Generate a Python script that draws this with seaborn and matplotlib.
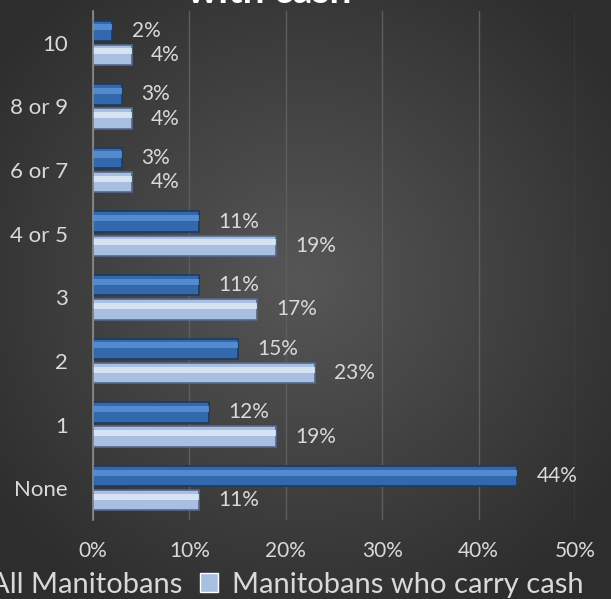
import numpy as np
import pandas as pd
import matplotlib
matplotlib.use("Agg")
import matplotlib.pyplot as plt
from matplotlib.patches import Rectangle
import seaborn as sns

# data (percent)
categories = ["10", "8 or 9", "6 or 7", "4 or 5", "3", "2", "1", "None"]
all_manitobans = [2, 3, 3, 11, 11, 15, 12, 44]
carry_cash = [4, 4, 4, 19, 17, 23, 19, 11]
series = ["All Manitobans", "Manitobans who carry cash"]
xticks = [0, 10, 20, 30, 40, 50]

df = pd.DataFrame({
    "cat": categories * 2,
    "val": all_manitobans + carry_cash,
    "series": [series[0]] * len(categories) + [series[1]] * len(categories),
})

sns.set_style("dark")
plt.rcParams["font.family"] = ["Lato", "DejaVu Sans"]
txt = "#d9d9d9"

fig = plt.figure(figsize=(6.11, 5.99), dpi=100)

# radial grey background
bg = fig.add_axes([0, 0, 1, 1], zorder=-10)
yy, xx = np.mgrid[0:599, 0:611]
r = np.sqrt(((xx - 300) / 611.0) ** 2 + ((yy - 280) / 599.0) ** 2)
shade = np.clip(0.34 - 0.26 * r, 0.18, 0.34)
bg.imshow(np.dstack([shade] * 3), aspect="auto", extent=[0, 1, 0, 1])
bg.axis("off")

ax = fig.add_axes([93 / 611, 1 - 520 / 599, (575 - 93) / 611, (520 - 11) / 599])
ax.patch.set_alpha(0)
sns.barplot(data=df, x="val", y="cat", hue="series", order=categories,
            hue_order=series, palette=["#3468ad", "#a9bfe2"], width=0.76,
            orient="h", ax=ax, legend=True, saturation=1)

edges = ["#1d3a63", "#53698c"]
shine = ["#5c94d8", "#e2edfb"]
for i, cont in enumerate(ax.containers):
    for p in cont.patches:
        h = p.get_height()
        p.set_y(p.get_y() + 0.03)
        p.set_height(h - 0.06)
        p.set_edgecolor(edges[i])
        p.set_linewidth(1.2)
        # light band across the bar for the bevel look
        y0, hh = p.get_y(), p.get_height()
        ax.add_patch(Rectangle((0, y0 + hh * 0.18), p.get_width(), hh * 0.3,
                               facecolor=shine[i], edgecolor="none",
                               alpha=0.8, zorder=p.get_zorder() + 0.1))
    ax.bar_label(cont, labels=[f"{v:.0f}%" for v in cont.datavalues],
                 padding=14, color=txt, fontsize=15)

ax.set_xlim(0, 50)
ax.set_xticks(xticks)
ax.set_xticklabels([f"{t}%" for t in xticks])
ax.set_xlabel("")
ax.set_ylabel("")
ax.tick_params(axis="x", colors=txt, labelsize=15, length=0, pad=15)
ax.tick_params(axis="y", colors=txt, labelsize=16, length=0, pad=18)
ax.grid(axis="x", color="#5e5e5e", linewidth=1)
ax.grid(axis="y", visible=False)
ax.set_axisbelow(True)
for s in ["top", "right", "bottom"]:
    ax.spines[s].set_visible(False)
ax.spines["left"].set_color("#8c8c8c")
ax.spines["left"].set_linewidth(1.2)

handles, labels = ax.get_legend_handles_labels()
ax.get_legend().remove()
fig.legend(handles, labels, loc="center", bbox_to_anchor=(271 / 611, 1 - 585 / 599),
           ncol=2, frameon=False, fontsize=21, labelcolor=txt,
           handlelength=0.6, handleheight=0.6, handletextpad=0.5, columnspacing=0.6)

fig.text(269 / 611, 1 - 3 / 599, "with cash", ha="center", va="baseline",
         fontsize=28, fontweight="bold", color="white")

fig.savefig("out.png", dpi=100)
